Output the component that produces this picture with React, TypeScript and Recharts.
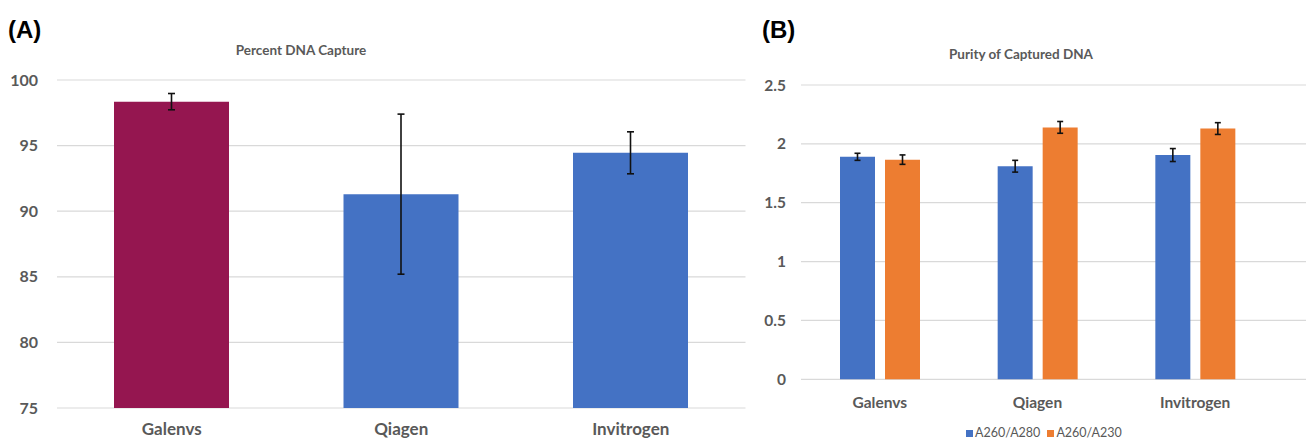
import React from 'react';
import { BarChart, Bar, XAxis, YAxis, CartesianGrid, ErrorBar, Cell } from 'recharts';

const categories = ['Galenvs', 'Qiagen', 'Invitrogen'];
const captureValues = [98.35, 91.3, 94.45];
const captureErrors = [0.62, 6.1, 1.6];
const a280Values = [1.89, 1.81, 1.905];
const a280Errors = [0.03, 0.05, 0.055];
const a230Values = [1.866, 2.14, 2.13];
const a230Errors = [0.04, 0.05, 0.05];
const captureTicks = [75, 80, 85, 90, 95, 100];
const purityTicks = [0, 0.5, 1, 1.5, 2, 2.5];
const captureColors = ['#951650', '#4472C4', '#4472C4'];
const seriesNames = ['A260/A280', 'A260/A230'];
const seriesColors = ['#4472C4', '#ED7D31'];

const captureData = categories.map((name, i) => ({
  name,
  value: captureValues[i],
  err: captureErrors[i],
}));

const purityData = categories.map((name, i) => ({
  name,
  a280: a280Values[i],
  a280Err: a280Errors[i],
  a230: a230Values[i],
  a230Err: a230Errors[i],
}));

const FONT = 'Lato, "Open Sans", sans-serif';
const GRAY = '#595959';

export default function App() {
  return (
    <div style={{ position: 'absolute', left: 0, top: 0, width: 1306, height: 440, background: '#fff', overflow: 'hidden' }}>
      <div style={{ position: 'absolute', left: 0, top: 0 }}>
        <BarChart
          width={760}
          height={440}
          data={captureData}
          margin={{ top: 80, right: 14.5, bottom: 2, left: 7 }}
        >
          <CartesianGrid vertical={false} stroke="#D9D9D9" strokeWidth={1.2} />
          <XAxis
            dataKey="name"
            height={30}
            axisLine={false}
            tickLine={false}
            tickSize={0}
            tickMargin={15}
            interval={0}
            tick={{ fill: GRAY, fontSize: 17, fontWeight: 700, fontFamily: FONT }}
          />
          <YAxis
            width={50}
            domain={[75, 100]}
            ticks={captureTicks}
            axisLine={false}
            tickLine={false}
            tickSize={0}
            tickMargin={19}
            tick={{ fill: GRAY, fontSize: 16, fontWeight: 700, fontFamily: FONT }}
          />
          <Bar dataKey="value" barSize={115} isAnimationActive={false}>
            {captureData.map((d, i) => (
              <Cell key={d.name} fill={captureColors[i]} />
            ))}
            <ErrorBar dataKey="err" width={3.5} stroke="#111" strokeWidth={1.6} direction="y" />
          </Bar>
        </BarChart>
      </div>
      <div style={{ position: 'absolute', left: 740, top: 0 }}>
        <BarChart
          width={566}
          height={440}
          data={purityData}
          margin={{ top: 85, right: 0, bottom: 30.7, left: 11 }}
          barGap={10}
        >
          <CartesianGrid vertical={false} stroke="#D9D9D9" strokeWidth={1.2} />
          <XAxis
            dataKey="name"
            height={30}
            axisLine={false}
            tickLine={false}
            tickSize={0}
            tickMargin={18}
            interval={0}
            padding={{ left: 0, right: 32 }}
            tick={{ fill: GRAY, fontSize: 15.5, fontWeight: 700, fontFamily: FONT }}
          />
          <YAxis
            width={50}
            domain={[0, 2.5]}
            ticks={purityTicks}
            axisLine={false}
            tickLine={false}
            tickSize={0}
            tickMargin={15}
            tick={{ fill: GRAY, fontSize: 15.5, fontWeight: 700, fontFamily: FONT }}
          />
          <Bar dataKey="a280" name={seriesNames[0]} fill={seriesColors[0]} barSize={35} isAnimationActive={false}>
            <ErrorBar dataKey="a280Err" width={3} stroke="#111" strokeWidth={1.6} direction="y" />
          </Bar>
          <Bar dataKey="a230" name={seriesNames[1]} fill={seriesColors[1]} barSize={35} isAnimationActive={false}>
            <ErrorBar dataKey="a230Err" width={3} stroke="#111" strokeWidth={1.6} direction="y" />
          </Bar>
        </BarChart>
      </div>
      <svg width={1306} height={440} style={{ position: 'absolute', left: 0, top: 0, pointerEvents: 'none' }}>
        <text x={8} y={38} fontFamily='"Liberation Sans", Arial, sans-serif' fontWeight={700} fontSize={24} fill="#000">(A)</text>
        <text x={762} y={38} fontFamily='"Liberation Sans", Arial, sans-serif' fontWeight={700} fontSize={24} fill="#000">(B)</text>
        <text x={301} y={55} textAnchor="middle" fontFamily={FONT} fontWeight={700} fontSize={13.5} fill={GRAY}>Percent DNA Capture</text>
        <text x={1021} y={59} textAnchor="middle" fontFamily={FONT} fontWeight={700} fontSize={13.5} fill={GRAY}>Purity of Captured DNA</text>
      </svg>
      <div
        style={{
          position: 'absolute',
          left: 966,
          top: 426,
          display: 'flex',
          alignItems: 'center',
          fontFamily: FONT,
          fontSize: 12.5,
          color: GRAY,
          lineHeight: '14px',
          whiteSpace: 'nowrap',
        }}
      >
        {seriesNames.map((n, i) => (
          <span key={n} style={{ display: 'flex', alignItems: 'center', marginRight: i === 0 ? 7 : 0 }}>
            <span style={{ display: 'inline-block', width: 7, height: 7, background: seriesColors[i], marginRight: 2 }} />
            {n}
          </span>
        ))}
      </div>
    </div>
  );
}
